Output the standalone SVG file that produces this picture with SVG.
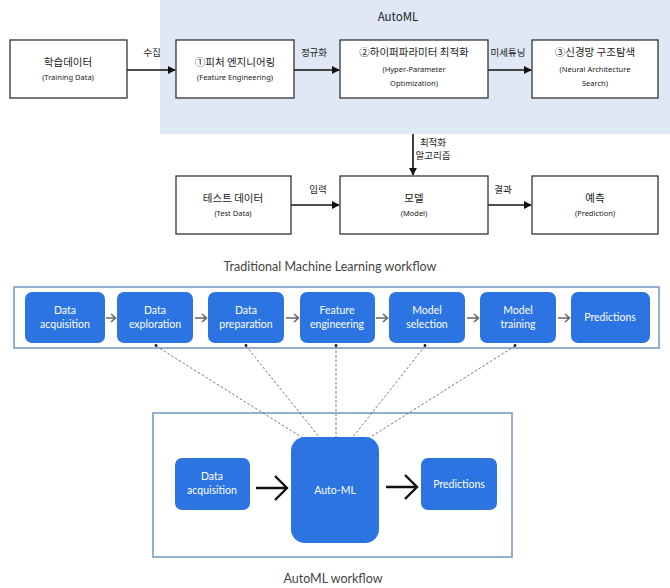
<svg xmlns="http://www.w3.org/2000/svg" width="670" height="588" viewBox="0 0 670 588">
<defs>
<style>
.box{fill:#fff;stroke:#333;stroke-width:1.3}
.kr{font-family:"Noto Sans CJK KR","Noto Sans",sans-serif;font-size:10.5px;fill:#222;text-anchor:middle}
.en{font-family:"Noto Sans","Noto Sans CJK KR",sans-serif;font-size:7.5px;fill:#222;text-anchor:middle}
.lbl{font-family:"Noto Sans CJK KR",sans-serif;font-size:9.5px;fill:#222;text-anchor:middle}
.conn{stroke:#111;stroke-width:1.6;fill:none}
.blue{fill:#2b74e2}
.bt{font-family:"Lato","Liberation Sans",sans-serif;font-size:10.5px;fill:#fff;text-anchor:middle}
.garrow{stroke:#666;stroke-width:1.6;fill:none}
.dash{stroke:#666;stroke-width:0.9;stroke-dasharray:2.5,2;fill:none}
.dot{fill:#222}
.cap{font-family:"Lato","Liberation Sans",sans-serif;font-size:12.5px;fill:#444;text-anchor:middle}
.frame{fill:none;stroke:#7b9cc6;stroke-width:1.6}
</style>
<marker id="ah" viewBox="0 0 10 10" refX="9" refY="5" markerWidth="5" markerHeight="5" orient="auto"><path d="M0,0 L10,5 L0,10 z" fill="#111"/></marker>
</defs>
<rect width="670" height="588" fill="#fff"/>
<rect x="160" y="0" width="510" height="134" fill="#dfe8f4"/>
<text x="398" y="21" class="kr" style="font-size:11.5px">AutoML</text>

<g id="trad-frame"><rect x="14" y="287" width="645" height="61" class="frame"/></g>
<g id="auto-frame"><rect x="153" y="413" width="359" height="144" class="frame"/></g>

<g id="connectors">
<line x1="127" y1="70" x2="175" y2="70" class="conn" marker-end="url(#ah)"/>
<line x1="294" y1="70" x2="339" y2="70" class="conn" marker-end="url(#ah)"/>
<line x1="488" y1="70" x2="531" y2="70" class="conn" marker-end="url(#ah)"/>
<line x1="413" y1="134" x2="413" y2="175" class="conn" marker-end="url(#ah)"/>
<line x1="291" y1="205" x2="339" y2="205" class="conn" marker-end="url(#ah)"/>
<line x1="488" y1="205" x2="531" y2="205" class="conn" marker-end="url(#ah)"/>
<text x="152" y="56" class="lbl">수집</text>
<text x="314" y="56" class="lbl">정규화</text>
<text x="508" y="56" class="lbl">미세튜닝</text>
<text x="433" y="146" class="lbl">최적화</text>
<text x="433" y="159" class="lbl">알고리즘</text>
<text x="318" y="193" class="lbl">입력</text>
<text x="503" y="193" class="lbl">결과</text>
<path d="M106,318 H115 M111,314 L115.5,318 L111,322" class="garrow"/>
<path d="M195,318 H206 M202,314 L206.5,318 L202,322" class="garrow"/>
<path d="M286,318 H298 M294,314 L298.5,318 L294,322" class="garrow"/>
<path d="M376,318 H387 M383,314 L387.5,318 L383,322" class="garrow"/>
<path d="M467,318 H478 M474,314 L478.5,318 L474,322" class="garrow"/>
<path d="M558,318 H569 M565,314 L569.5,318 L565,322" class="garrow"/>
<line x1="156" y1="346" x2="303" y2="438" class="dash"/>
<line x1="246" y1="346" x2="320" y2="438" class="dash"/>
<line x1="336" y1="346" x2="336" y2="438" class="dash"/>
<line x1="425" y1="346" x2="352" y2="438" class="dash"/>
<line x1="515" y1="346" x2="369" y2="438" class="dash"/>
<circle cx="156" cy="345.5" r="1.4" class="dot"/>
<circle cx="246" cy="345.5" r="1.4" class="dot"/>
<circle cx="336" cy="345.5" r="1.4" class="dot"/>
<circle cx="425" cy="345.5" r="1.4" class="dot"/>
<circle cx="515" cy="345.5" r="1.4" class="dot"/>
<path d="M256,488 H286 M275,476 L287,488 L275,500" stroke="#111" stroke-width="2.4" fill="none"/>
<path d="M386,487 H416 M405,475 L417,487 L405,499" stroke="#111" stroke-width="2.4" fill="none"/>
</g>

<g id="n-train"><rect x="10" y="40" width="117" height="58" class="box"/><text x="68" y="66" class="kr">학습데이터</text><text x="68" y="80" class="en">(Training Data)</text></g>
<g id="n-fe"><rect x="176" y="40" width="118" height="58" class="box"/><text x="235" y="66" class="kr">①피처 엔지니어링</text><text x="235" y="80" class="en">(Feature Engineering)</text></g>
<g id="n-hpo"><rect x="340" y="40" width="148" height="58" class="box"/><text x="414" y="56" class="kr">②하이퍼파라미터 최적화</text><text x="414" y="72" class="en">(Hyper-Parameter</text><text x="414" y="86" class="en">Optimization)</text></g>
<g id="n-nas"><rect x="532" y="40" width="126" height="58" class="box"/><text x="595" y="56" class="kr">③신경망 구조탐색</text><text x="595" y="72" class="en">(Neural Architecture</text><text x="595" y="86" class="en">Search)</text></g>
<g id="n-test"><rect x="176" y="176" width="115" height="58" class="box"/><text x="233" y="202" class="kr">테스트 데이터</text><text x="233" y="216" class="en">(Test Data)</text></g>
<g id="n-model"><rect x="340" y="176" width="148" height="58" class="box"/><text x="414" y="202" class="kr">모델</text><text x="414" y="216" class="en">(Model)</text></g>
<g id="n-pred"><rect x="532" y="176" width="126" height="58" class="box"/><text x="595" y="202" class="kr">예측</text><text x="595" y="216" class="en">(Prediction)</text></g>
<text x="330" y="271" class="cap">Traditional Machine Learning workflow</text>

<g id="t1"><rect x="25" y="292" width="80" height="51" rx="7" class="blue"/><text x="65" y="314" class="bt">Data</text><text x="65" y="328" class="bt">acquisition</text></g>
<g id="t2"><rect x="117" y="292" width="76" height="51" rx="7" class="blue"/><text x="155" y="314" class="bt">Data</text><text x="155" y="328" class="bt">exploration</text></g>
<g id="t3"><rect x="208" y="292" width="76" height="51" rx="7" class="blue"/><text x="246" y="314" class="bt">Data</text><text x="246" y="328" class="bt">preparation</text></g>
<g id="t4"><rect x="300" y="292" width="75" height="51" rx="7" class="blue"/><text x="337" y="314" class="bt">Feature</text><text x="337" y="328" class="bt">engineering</text></g>
<g id="t5"><rect x="389" y="292" width="76" height="51" rx="7" class="blue"/><text x="427" y="314" class="bt">Model</text><text x="427" y="328" class="bt">selection</text></g>
<g id="t6"><rect x="480" y="292" width="76" height="51" rx="7" class="blue"/><text x="518" y="314" class="bt">Model</text><text x="518" y="328" class="bt">training</text></g>
<g id="t7"><rect x="571" y="292" width="79" height="51" rx="7" class="blue"/><text x="610" y="321" class="bt">Predictions</text></g>

<g id="a1"><rect x="175" y="458" width="75" height="52" rx="7" class="blue"/><text x="212" y="480" class="bt">Data</text><text x="212" y="494" class="bt">acquisition</text></g>
<g id="a2"><rect x="291" y="437" width="88" height="106" rx="14" class="blue"/><text x="335" y="494" class="bt">Auto-ML</text></g>
<g id="a3"><rect x="421" y="458" width="76" height="52" rx="7" class="blue"/><text x="459" y="488" class="bt">Predictions</text></g>
<text x="333" y="583" class="cap">AutoML workflow</text>
</svg>
